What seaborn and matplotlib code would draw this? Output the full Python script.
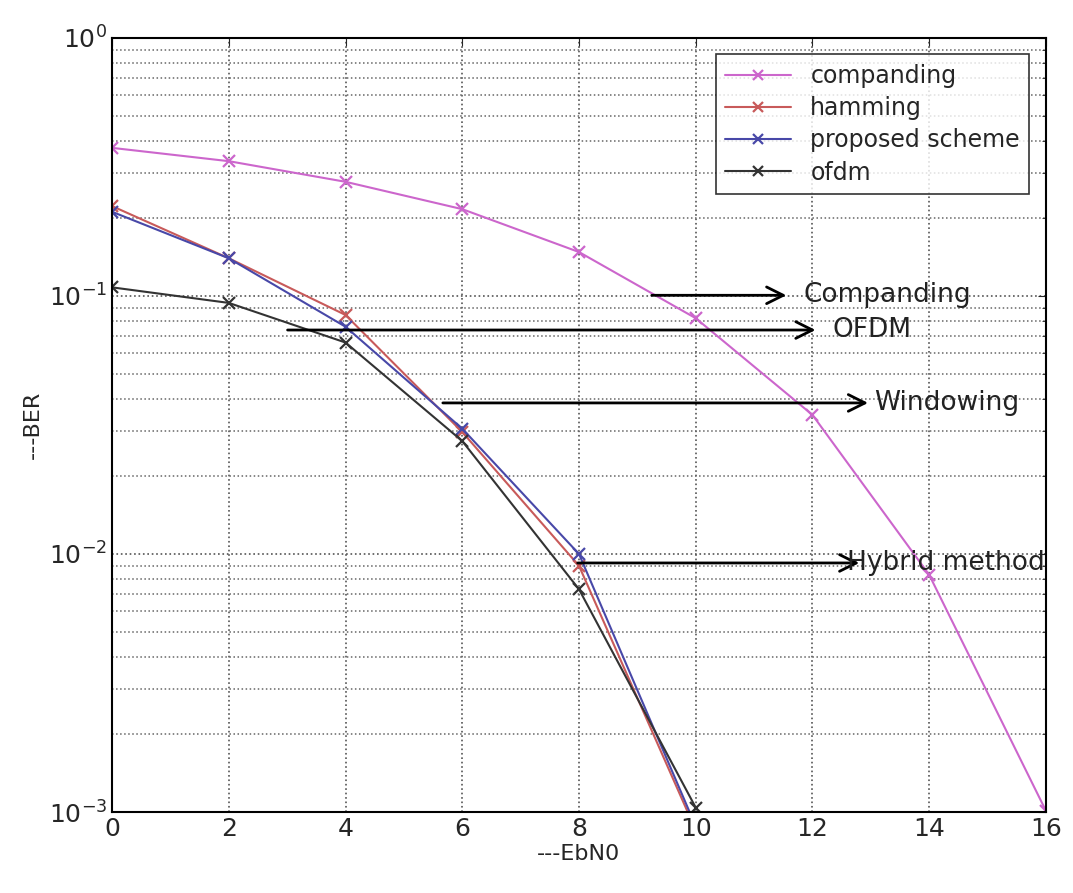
import matplotlib
matplotlib.use("Agg")
import matplotlib.pyplot as plt
from matplotlib.ticker import LogLocator, NullFormatter
import numpy as np
import pandas as pd
import seaborn as sns

# data
ebn0_comp = [0, 2, 4, 6, 8, 10, 12, 14, 16]
ber_companding = [0.375, 0.333, 0.277, 0.217, 0.148, 0.082, 0.0346, 0.0083, 0.00101]

ebn0 = [0, 2, 4, 6, 8, 10]
ber_hamming = [0.223, 0.140, 0.0844, 0.0297, 0.0090, 0.00085]
ber_proposed = [0.212, 0.140, 0.0760, 0.0306, 0.0100, 0.00088]
ber_ofdm = [0.108, 0.094, 0.066, 0.0274, 0.0073, 0.00104]

series_names = ["companding", "hamming", "proposed scheme", "ofdm"]
series_colors = ["#cc66cc", "#c85a5a", "#4848a8", "#333333"]

# arrow annotations: (label, y, x_start, x_end, x_text)
notes = [
    ("Companding", 0.1006, 9.2, 11.6, 11.85),
    ("OFDM", 0.0738, 2.96, 12.1, 12.35),
    ("Windowing", 0.0385, 5.62, 13.0, 13.05),
    ("Hybrid method", 0.00923, 7.93, 12.85, 12.6),
]

df = pd.concat([
    pd.DataFrame({"EbN0": ebn0_comp, "BER": ber_companding, "series": "companding"}),
    pd.DataFrame({"EbN0": ebn0, "BER": ber_hamming, "series": "hamming"}),
    pd.DataFrame({"EbN0": ebn0, "BER": ber_proposed, "series": "proposed scheme"}),
    pd.DataFrame({"EbN0": ebn0, "BER": ber_ofdm, "series": "ofdm"}),
])

sns.set_style("white")
plt.rcParams["font.family"] = ["DejaVu Sans"]

fig = plt.figure(figsize=(10.73, 8.93), dpi=100)
ax = fig.add_axes([0.1044, 0.0907, 0.8704, 0.8668])

sns.lineplot(data=df, x="EbN0", y="BER", hue="series", hue_order=series_names,
             palette=series_colors, marker="x", markersize=9, markeredgewidth=1.6,
             linewidth=1.5, ax=ax, sort=False)
# x markers come out white otherwise
for ln in ax.lines:
    ln.set_markeredgecolor(ln.get_color())

ax.set_yscale("log")
ax.set_xlim(0, 16)
ax.set_ylim(1e-3, 1)
ax.set_xticks(np.arange(0, 17, 2))
ax.yaxis.set_major_locator(LogLocator(base=10, numticks=10))
ax.yaxis.set_minor_locator(LogLocator(base=10, subs=np.arange(2, 10), numticks=10))
ax.yaxis.set_minor_formatter(NullFormatter())
ax.grid(True, which="major", linestyle=":", color="#555555", linewidth=1.2)
ax.grid(True, which="minor", axis="y", linestyle=":", color="#666666", linewidth=1.1)
ax.tick_params(axis="both", which="major", labelsize=18, direction="in", length=6,
               top=True, right=True)
ax.tick_params(axis="y", which="minor", direction="in", length=3, right=True)
for s in ax.spines.values():
    s.set_color("black")
    s.set_linewidth(1.5)

ax.set_xlabel("---EbN0", fontsize=16, labelpad=2)
ax.set_ylabel("---BER", fontsize=16, labelpad=4)

for label, y, x0, x1, xt in notes:
    ax.annotate("", xy=(x1, y), xytext=(x0, y),
                arrowprops=dict(arrowstyle="->", color="black", lw=2, mutation_scale=30))
    ax.text(xt, y, label, fontsize=19, va="center", ha="left", color="#222222")

leg = ax.legend(loc="upper right", fontsize=17, frameon=True, fancybox=False,
                edgecolor="black", handlelength=2.8, borderaxespad=0.7,
                labelspacing=0.35)
leg.get_frame().set_linewidth(1.2)
for ln in leg.get_lines():
    ln.set_markeredgecolor(ln.get_color())
    ln.set_markersize(7)

fig.savefig("out.png", dpi=100, facecolor="white")
